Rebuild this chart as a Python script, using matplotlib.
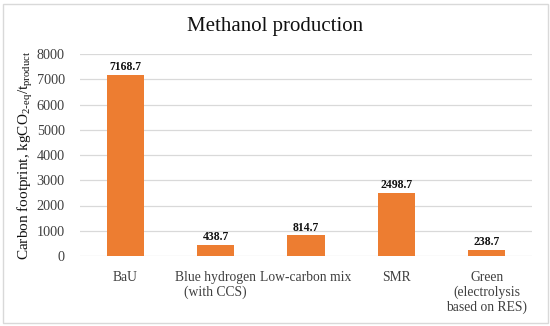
import matplotlib.pyplot as plt
from matplotlib.patches import Rectangle

categories = ["BaU", "Blue hydrogen\n(with CCS)", "Low-carbon mix", "SMR",
              "Green\n(electrolysis\nbased on RES)"]
values = [7168.7, 438.7, 814.7, 2498.7, 238.7]
yticks = [0, 1000, 2000, 3000, 4000, 5000, 6000, 7000, 8000]

plt.rcParams["font.family"] = ["Liberation Serif", "DejaVu Serif"]

fig = plt.figure(figsize=(5.5, 3.26), dpi=100)
ax = fig.add_axes([80 / 550, 1 - 256 / 326, 452 / 550, 202 / 326])

x = range(len(categories))
ax.bar(x, values, width=0.41, color="#ED7D31", zorder=3)
for xi, v in zip(x, values):
    ax.text(xi, v + 70, f"{v:.1f}", ha="center", va="bottom",
            fontsize=8.5, fontweight="bold", color="#111111")

ax.set_xlim(-0.5, len(categories) - 0.5)
ax.set_ylim(0, 8000)
ax.set_yticks(yticks)
ax.set_yticklabels([str(t) for t in yticks], fontsize=10.3, color="#404040")
ax.set_xticks(list(x))
ax.set_xticklabels(categories, fontsize=9.8, color="#404040", linespacing=1.15,
                   va="top")
ax.tick_params(length=0, pad=11)
ax.tick_params(axis="x", pad=11)
ax.grid(axis="y", color="#D9D9D9", linewidth=0.9, zorder=0)
for s in ax.spines.values():
    s.set_visible(False)

ax.set_ylabel(r"Carbon footprint, kgCO$_{\mathregular{2\text{-}eq}}$/t$_{\mathregular{product}}$",
              fontsize=11, color="#111111", labelpad=1)

fig.text(0.5, 1 - 27 / 326, "Methanol production", ha="center", va="center",
         fontsize=15, color="#111111")

fig.patches.append(Rectangle((3 / 550, 3 / 326), 545 / 550, 319 / 326,
                             transform=fig.transFigure, fill=False,
                             edgecolor="#D9D9D9", linewidth=1))

fig.savefig("out.png", dpi=100, facecolor="white")
